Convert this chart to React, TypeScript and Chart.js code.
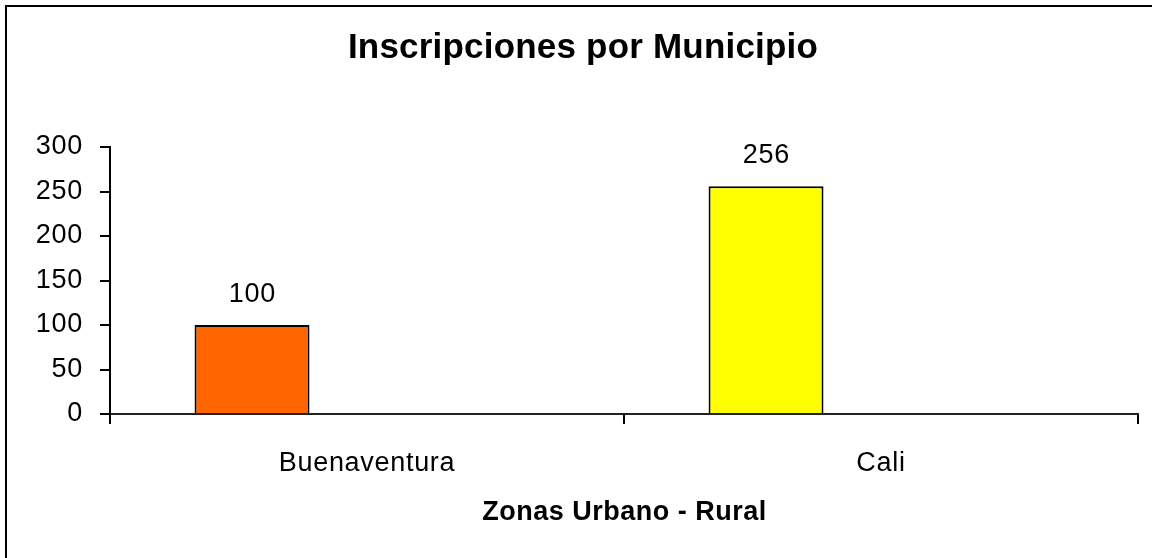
import React, { useEffect, useRef } from "react";
import { Chart, registerables } from "chart.js";

Chart.register(...registerables);

const TITLE = "Inscripciones por Municipio";
const X_TITLE = "Zonas Urbano - Rural";
const categories = ["Buenaventura", "Cali"];
const inscripciones = [100, 256];
const barColors = ["#FF6600", "#FFFF00"];
const emptySeriesA: (number | null)[] = [null, null];
const emptySeriesB: (number | null)[] = [null, null];
const yTicks = [0, 50, 100, 150, 200, 250, 300];

const FONT = "'Liberation Sans', Arial, sans-serif";

const decorPlugin = {
  id: "decor",
  beforeDraw(chart: any) {
    const ctx = chart.ctx;
    (ctx as any).letterSpacing = "0.7px";
  },
  afterDraw(chart: any) {
    const ctx = chart.ctx as CanvasRenderingContext2D;
    const area = chart.chartArea;
    ctx.save();
    // outer frame
    ctx.strokeStyle = "#000";
    ctx.lineWidth = 2;
    ctx.strokeRect(6, 6, 1300, 700);
    ctx.fillStyle = "#000";
    ctx.textBaseline = "alphabetic";
    ctx.textAlign = "center";
    // title
    (ctx as any).letterSpacing = "0.2px";
    ctx.font = `bold 35px ${FONT}`;
    ctx.fillText(TITLE, 583, 58);
    // x axis title
    (ctx as any).letterSpacing = "0.5px";
    ctx.font = `bold 27px ${FONT}`;
    ctx.fillText(X_TITLE, (area.left + area.right) / 2 + 0.5, 520);
    // data labels
    (ctx as any).letterSpacing = "0.7px";
    ctx.font = `27px ${FONT}`;
    const meta = chart.getDatasetMeta(0);
    meta.data.forEach((bar: any, i: number) => {
      const v = inscripciones[i];
      if (v == null) return;
      ctx.fillText(String(v), bar.x + 0.4, bar.y - 23);
    });
    ctx.restore();
  },
};

export default function App() {
  const ref = useRef<HTMLCanvasElement | null>(null);
  useEffect(() => {
    if (!ref.current) return;
    const chart = new Chart(ref.current, {
      type: "bar",
      data: {
        labels: categories,
        datasets: [
          {
            label: "Inscripciones",
            data: inscripciones,
            backgroundColor: barColors,
            borderColor: "#000",
            borderWidth: 2,
          },
          { label: "s2", data: emptySeriesA },
          { label: "s3", data: emptySeriesB },
        ],
      },
      options: {
        animation: false,
        responsive: false,
        devicePixelRatio: 1,
        layout: { padding: { top: 147, right: 14, left: 0, bottom: 0 } },
        datasets: {
          bar: { categoryPercentage: 0.671, barPercentage: 1 },
        },
        plugins: {
          legend: { display: false },
          title: { display: false },
          tooltip: { enabled: false },
        },
        scales: {
          x: {
            grid: {
              display: true,
              drawOnChartArea: false,
              drawTicks: true,
              tickLength: 10,
              color: "#000",
              lineWidth: 2,
              offset: true,
            },
            border: { display: true, color: "#222", width: 2 },
            ticks: {
              color: "#000",
              font: { family: FONT, size: 27 },
              padding: 23,
              maxRotation: 0,
            },
            afterFit(scale: any) {
              scale.height = 144;
            },
          },
          y: {
            min: 0,
            max: 300,
            afterBuildTicks(scale: any) {
              scale.ticks = yTicks.map((v) => ({ value: v }));
            },
            grid: {
              display: true,
              drawOnChartArea: false,
              drawTicks: true,
              tickLength: 10,
              color: "#000",
              lineWidth: 2,
            },
            border: { display: true, color: "#000", width: 2 },
            ticks: {
              color: "#000",
              font: { family: FONT, size: 27 },
              padding: 17,
            },
            afterFit(scale: any) {
              scale.width = 110;
            },
          },
        },
      },
      plugins: [decorPlugin],
    });
    return () => chart.destroy();
  }, []);
  return (
    <div style={{ position: "absolute", left: 0, top: 0, width: 1152, height: 558, background: "#fff" }}>
      <canvas ref={ref} width={1152} height={558} style={{ display: "block" }} />
    </div>
  );
}
